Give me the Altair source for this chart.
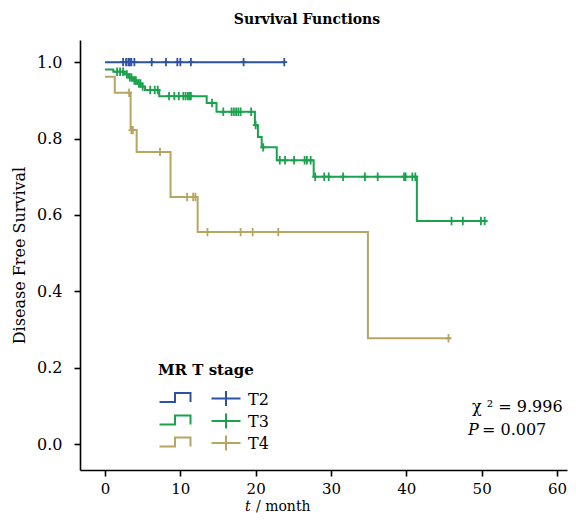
import altair as alt
import pandas as pd

groups = ["T2", "T3", "T4"]
colors = ["#2e52a2", "#1ba24e", "#b6a660"]

# Step points (time, survival after the step); last point = end of follow-up
t2_step_t = [0.0, 23.8]
t2_step_s = [1.0, 1.0]
t2_cens = [2.4, 2.8, 3.1, 3.3, 3.5, 3.9, 6.2, 8.1, 9.6, 10.0, 11.4, 18.4, 23.8]

t3_step_t = [0.0, 1.1, 2.6, 3.1, 3.7, 4.3, 4.9, 5.3, 7.2, 13.5, 14.8, 19.9, 20.3, 20.8, 22.8, 27.7, 41.4, 50.4]
t3_step_s = [0.981, 0.975, 0.968, 0.960, 0.952, 0.944, 0.936, 0.927, 0.911, 0.893, 0.870, 0.835, 0.804, 0.777, 0.743, 0.700, 0.584, 0.584]
t3_cens = [1.6, 2.0, 2.4, 2.9, 3.3, 3.5, 3.9, 4.1, 4.5, 4.7, 5.0, 6.0, 6.6, 7.0, 8.5, 9.2, 9.8, 10.4,
           10.7, 11.0, 11.2, 11.4, 14.2, 15.7, 16.8, 17.1, 17.4, 17.7, 18.0, 19.4, 20.0, 21.0, 23.2, 23.9,
           25.1, 26.5, 26.8, 27.3, 27.9, 29.1, 29.7, 31.6, 34.5, 36.2, 39.7, 39.9, 40.8, 41.2, 46.0, 47.5, 49.9, 50.4]

t4_step_t = [0.0, 1.3, 3.4, 4.2, 8.7, 12.3, 34.9, 45.9]
t4_step_s = [0.962, 0.920, 0.822, 0.765, 0.647, 0.555, 0.277, 0.277]
t4_cens = [3.2, 3.5, 3.7, 7.3, 10.9, 11.7, 12.0, 13.6, 18.0, 19.6, 23.0, 45.6]

x_ticks = [0, 10, 20, 30, 40, 50, 60]
y_ticks = [0.0, 0.2, 0.4, 0.6, 0.8, 1.0]

FONT = "DejaVu Serif"

steps = {"T2": (t2_step_t, t2_step_s), "T3": (t3_step_t, t3_step_s), "T4": (t4_step_t, t4_step_s)}
cens = {"T2": t2_cens, "T3": t3_cens, "T4": t4_cens}

line_rows, cens_rows = [], []
for g in groups:
    ts, ss = steps[g]
    for i, (t, s) in enumerate(zip(ts, ss)):
        line_rows.append({"group": g, "time": t, "surv": s, "ord": i})
    for c in cens[g]:
        s_at = [s for t, s in zip(ts, ss) if t <= c][-1]
        cens_rows.append({"group": g, "time": c, "surv": s_at})

line_df = pd.DataFrame(line_rows)
cens_df = pd.DataFrame(cens_rows)

xscale = alt.Scale(domain=[-3.32, 61.33], nice=False, zero=False)
yscale = alt.Scale(domain=[-0.068, 1.058], nice=False, zero=False)
cscale = alt.Scale(domain=groups, range=colors)

xaxis = alt.Axis(values=x_ticks, title=None, grid=False, tickSize=6, labelPadding=5,
                 labelFontSize=15, labelFont=FONT, domainWidth=1.6, tickWidth=1.6)
yaxis = alt.Axis(values=y_ticks, format=".1f", title="Disease Free Survival", grid=False,
                 tickSize=6, labelPadding=12, labelFontSize=16, labelFont=FONT,
                 titleFont=FONT, titleFontSize=16, titleFontWeight="normal",
                 titleX=-56, titleY=215, titleBaseline="alphabetic", titleAngle=270,
                 domainWidth=1.6, tickWidth=1.6)

lines = alt.Chart(line_df).mark_line(interpolate="step-after", strokeWidth=2).encode(
    x=alt.X("time:Q", scale=xscale, axis=xaxis),
    y=alt.Y("surv:Q", scale=yscale, axis=yaxis),
    color=alt.Color("group:N", scale=cscale, legend=None),
    order="ord:Q",
)

cens_marks = alt.Chart(cens_df).mark_point(
    shape="M 0 -1 V 1 M -0.7 0 H 0.7", filled=False, size=70, strokeWidth=1.8, opacity=1
).encode(
    x=alt.X("time:Q", scale=xscale),
    y=alt.Y("surv:Q", scale=yscale),
    color=alt.Color("group:N", scale=cscale, legend=None),
)

one = pd.DataFrame({"a": [0]})
layers = [lines, cens_marks]

# Legend
legend_title = "MR T stage"
layers.append(alt.Chart(one).mark_text(text=legend_title, font=FONT, fontSize=15, fontWeight="bold",
                                       align="left", baseline="middle").encode(
    x=alt.value(78), y=alt.value(330)))
row_y = [357.5, 380, 402]
for g, c, ry in zip(groups, colors, row_y):
    layers.append(alt.Chart(one).mark_point(shape="M -1 0.29 H 0 V -0.29 H 1 V 0.29", filled=False,
                                            size=961, strokeWidth=2, color=c, opacity=1).encode(
        x=alt.value(95), y=alt.value(ry)))
    layers.append(alt.Chart(one).mark_point(shape="M -1 0 H 1 M 0 -0.52 V 0.52", filled=False,
                                            size=841, strokeWidth=2, color=c, opacity=1).encode(
        x=alt.value(146), y=alt.value(ry + 1)))
    layers.append(alt.Chart(one).mark_text(text=g, font=FONT, fontSize=16, align="left",
                                           baseline="middle", color="black").encode(
        x=alt.value(168), y=alt.value(ry + 2)))

# Statistics
layers.append(alt.Chart(one).mark_text(text="χ ² = 9.996", font=FONT, fontSize=16, align="left",
                                       baseline="middle").encode(x=alt.value(392), y=alt.value(367)))
layers.append(alt.Chart(one).mark_text(text="P", font=FONT, fontSize=16, fontStyle="italic",
                                       align="left", baseline="middle").encode(x=alt.value(388), y=alt.value(390)))
layers.append(alt.Chart(one).mark_text(text="= 0.007", font=FONT, fontSize=16, align="left",
                                       baseline="middle").encode(x=alt.value(402), y=alt.value(390)))

# Title
layers.append(alt.Chart(one).mark_text(text="Survival Functions", font=FONT, fontSize=14,
                                       fontWeight="bold", align="center", baseline="middle").encode(
    x=alt.value(227), y=alt.value(-20)))

# x-axis title (t italic)
layers.append(alt.Chart(one).mark_text(text="t", font=FONT, fontSize=14, fontStyle="italic",
                                       align="left", baseline="alphabetic").encode(x=alt.value(165), y=alt.value(471)))
layers.append(alt.Chart(one).mark_text(text="/ month", font=FONT, fontSize=14,
                                       align="left", baseline="alphabetic").encode(x=alt.value(176), y=alt.value(471)))

chart = alt.layer(*layers).properties(
    width=487, height=430,
    autosize=alt.AutoSizeParams(type="none"),
    padding={"left": 72, "top": 32, "right": 1, "bottom": 43},
).configure_view(stroke=None).configure_axis(
    domainColor="black", tickColor="black", labelColor="black", titleColor="black"
)

chart.save("out.html", embed_options={"renderer": "svg", "actions": False})
